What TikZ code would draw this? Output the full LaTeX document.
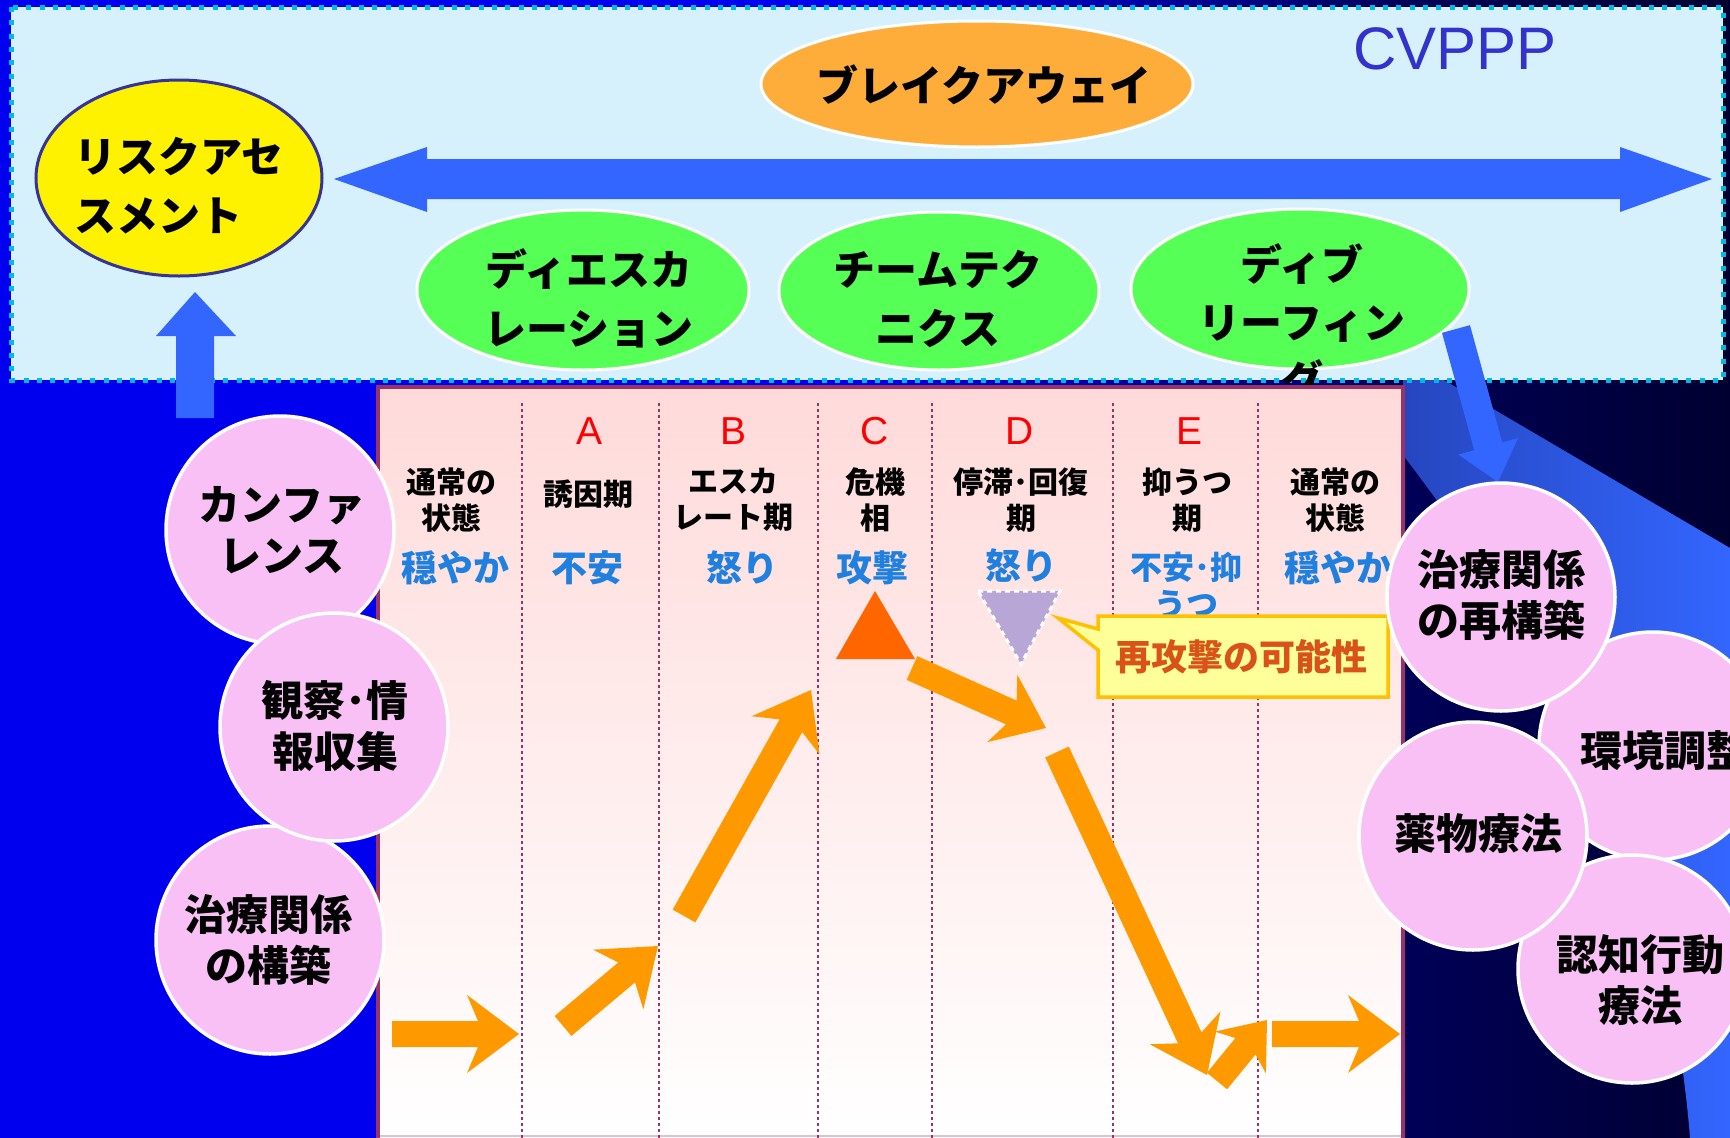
\documentclass[tikz,border=0pt]{standalone}
\usepackage{fontspec}
\setmainfont{Noto Sans CJK JP}
\newfontfamily\arialf{Liberation Sans}
\usetikzlibrary{calc,shapes.geometric}
\definecolor{bgblue}{HTML}{0000EE}
\definecolor{navyA}{HTML}{000058}
\definecolor{navyB}{HTML}{000030}
\definecolor{bandA}{HTML}{2646BF}
\definecolor{bandB}{HTML}{3366FF}
\definecolor{boxfill}{HTML}{D7F1FC}
\definecolor{cyanbrd}{HTML}{00B9E8}
\definecolor{arrblue}{HTML}{3366FF}
\definecolor{riskbrd}{HTML}{333399}
\definecolor{breakfill}{HTML}{FFAD3A}
\definecolor{greenfill}{HTML}{55FF55}
\definecolor{cvpppc}{HTML}{3333CC}
\definecolor{tablebrd}{HTML}{993366}
\definecolor{tabletop}{HTML}{FFDADA}
\definecolor{emoc}{HTML}{1F80E0}
\definecolor{otri}{HTML}{FF6600}
\definecolor{ptri}{HTML}{B8A6D6}
\definecolor{orangeA}{HTML}{FF9900}
\definecolor{callfill}{HTML}{FFFF99}
\definecolor{callbrd}{HTML}{FFC000}
\definecolor{calltext}{HTML}{D95319}
\definecolor{pinkc}{HTML}{F9C0F6}
\definecolor{tablebot}{HTML}{D8C4D0}
\newcommand\blockarr[7]{%
  \coordinate (ba-m) at ($(#2)!#6!(#1)$);
  \coordinate (ba-h) at ($(#2)!#5!(#1)$);
  \fill[#7] ($(#1)!#3!90:(#2)$) -- ($(ba-m)!#3!90:(#2)$) -- ($(ba-h)!#4!90:(#2)$) -- (#2)
    -- ($(ba-h)!#4!-90:(#2)$) -- ($(ba-m)!#3!-90:(#2)$) -- ($(#1)!#3!-90:(#2)$) -- cycle;}
\tikzset{
  bigtxt/.style={font=\bfseries\fontsize{42}{59}\selectfont, align=center, inner sep=0pt},
  lbl/.style={font=\bfseries\fontsize{30}{36}\selectfont, align=center, inner sep=0pt},
  emo/.style={font=\bfseries\fontsize{36}{40}\selectfont, text=emoc, align=center, inner sep=0pt},
  letter/.style={font=\arialf\fontsize{39}{44}\selectfont, text=red, inner sep=0pt},
  circ/.style={circle, minimum size=228pt, fill=pinkc, draw=white, line width=3.5pt, inner sep=0pt},
  ctxt/.style={font=\bfseries\fontsize{42}{51}\selectfont, align=center, inner sep=0pt},
  topell/.style={ellipse, draw=white, line width=3pt, inner sep=0pt},
  dotln/.style={tablebrd, line width=2.5pt, dash pattern=on 2.5pt off 3.5pt},
}
\begin{document}
\begin{tikzpicture}[x=1pt,y=-1pt]
\useasboundingbox (0,0) rectangle (1730,1138);
\clip (0,0) rectangle (1730,1138);
% background
\fill[bgblue] (0,0) rectangle (871,1138);
\shade[left color=bgblue, right color=navyA] (870,0) rectangle (1401,1138);
\shade[left color=navyA, right color=navyB] (1400,0) rectangle (1730,1138);
% right blue band
\shade[left color=bandA, right color=bandB] (1403,356) -- (1730,548) -- (1730,1138) -- (1690,1138)
  .. controls (1670,880) and (1560,660) .. (1403,455) -- cycle;
% top box
\fill[boxfill] (11,7) rectangle (1723,380);
\draw[cyanbrd, line width=5pt, dash pattern=on 5pt off 8.3pt] (11,7) rectangle (1723,380);
% double arrow
\fill[arrblue] (334,179) -- (427,147) -- (427,159) -- (1620,159) -- (1620,147) -- (1712,179)
  -- (1620,212) -- (1620,199) -- (427,199) -- (427,212) -- cycle;
% top ellipses
\node[ellipse, minimum width=286pt, minimum height=196pt, fill=yellow, draw=riskbrd, line width=3pt, inner sep=0pt] (risk) at (179,178) {};
\node[topell, minimum width=432pt, minimum height=126pt, fill=breakfill] (break) at (977,84) {};
\node[topell, minimum width=332pt, minimum height=160pt, fill=greenfill] (deesc) at (583,290) {};
\node[topell, minimum width=320pt, minimum height=158pt, fill=greenfill] (team) at (939,291) {};
\node[topell, minimum width=338pt, minimum height=160pt, fill=greenfill] (debrief) at (1300,289) {};
\node[bigtxt, align=left, anchor=west] (t-risk) at (74,186) {リスクアセ\\スメント};
\node[bigtxt] (t-break) at (984,85) {ブレイクアウェイ};
\node[bigtxt] (t-deesc) at (589,298) {ディエスカ\\レーション};
\node[bigtxt] (t-team) at (938,299) {チームテク\\ニクス};
\node[bigtxt, font=\bfseries\fontsize{42}{58}\selectfont] (t-debr) at (1302,322) {ディブ\\リーフィン\\グ};
\node[font=\arialf\fontsize{60}{66}\selectfont, text=cvpppc, inner sep=0pt] (t-cvppp) at (1455,49) {CVPPP};
% up arrow (left)
\fill[arrblue] (176,418) -- (176,336) -- (156,336) -- (195,292) -- (236,336) -- (214,336) -- (214,418) -- cycle;
% table
\shade[top color=tabletop, bottom color=white] (378,387) rectangle (1403,1138);
\draw[tablebot, line width=2pt] (378,1136) -- (1403,1136);
\draw[tablebrd, line width=4pt] (378,1140) -- (378,387) -- (1403,387) -- (1403,1140);
% down arrow (right)
\coordinate (dbS) at (1456,329);
\coordinate (dbE) at (1498,482);
\blockarr{dbS}{dbE}{14.5pt}{31pt}{37pt}{37pt}{arrblue}
% column separators
\foreach \x in {522,659,818,932,1113,1258} \draw[dotln] (\x,403) -- (\x,1138);
% letters
\node[letter] (lA) at (590,431) {A};
\node[letter] (lB) at (733,431) {B};
\node[letter] (lC) at (875,431) {C};
\node[letter] (lD) at (1020,431) {D};
\node[letter] (lE) at (1189,431) {E};
% phase labels
\node[lbl] (p0) at (451,500) {通常の\\状態};
\node[lbl] (p1) at (588,494) {誘因期};
\node[lbl] (p2) at (733,500) {エスカ\\レート期};
\node[lbl] (p3) at (875,500) {危機\\相};
\node[lbl] (p4) at (1021,500) {停滞･回復\\期};
\node[lbl] (p5) at (1187,500) {抑うつ\\期};
\node[lbl] (p6) at (1335,500) {通常の\\状態};
% emotions
\node[emo] (e0) at (455,568) {穏やか};
\node[emo] (e1) at (587,568) {不安};
\node[emo] (e2) at (742,568) {怒り};
\node[emo] (e3) at (872,568) {攻撃};
\node[emo] (e4) at (1021,566) {怒り};
\node[emo, font=\bfseries\fontsize{32}{37}\selectfont] (e5) at (1186,585) {不安･抑\\うつ};
\node[emo] (e6) at (1338,568) {穏やか};
% triangles
\fill[otri] (875,591) -- (915,659) -- (836,659) -- cycle;
\draw[fill=ptri, draw=white, line width=3pt, dash pattern=on 5pt off 4pt] (978,591) -- (1060,591) -- (1021,664) -- cycle;
% orange arrows
\coordinate (o1s) at (392,1034); \coordinate (o1e) at (519,1034);
\coordinate (o2s) at (563,1026); \coordinate (o2e) at (658,946);
\coordinate (o3s) at (684,916);  \coordinate (o3e) at (811,690);
\coordinate (o4s) at (912,668);  \coordinate (o4e) at (1046,728);
\coordinate (o5s) at (1057,752); \coordinate (o5e) at (1207,1075);
\coordinate (o6s) at (1217,1081); \coordinate (o6e) at (1267,1020);
\coordinate (o7s) at (1272,1034); \coordinate (o7e) at (1400,1034);
\blockarr{o1s}{o1e}{13pt}{39pt}{52pt}{41pt}{orangeA}
\blockarr{o2s}{o2e}{13pt}{39pt}{52pt}{41pt}{orangeA}
\blockarr{o3s}{o3e}{13pt}{39pt}{52pt}{41pt}{orangeA}
\blockarr{o4s}{o4e}{13pt}{37pt}{48pt}{38pt}{orangeA}
\blockarr{o5s}{o5e}{13pt}{39pt}{52pt}{41pt}{orangeA}
\blockarr{o6s}{o6e}{13pt}{33pt}{42pt}{34pt}{orangeA}
\blockarr{o7s}{o7e}{13pt}{39pt}{52pt}{41pt}{orangeA}
% callout
\fill[callfill, draw=callbrd, line width=3.5pt, line join=miter] (1098,616) -- (1388,616) -- (1388,697) -- (1098,697)
  -- (1098,650) -- (1058,618) -- (1098,629) -- cycle;
\node[font=\bfseries\fontsize{36}{40}\selectfont, text=calltext, inner sep=0pt] (t-call) at (1241,657) {再攻撃の可能性};
% left circles
\node[circ] (c-conf) at (280,530) {};
\node[circ] (c-rel) at (270,940) {};
\node[circ] (c-obs) at (334,727) {};
\node[ctxt] (t-conf) at (282,530) {カンファ\\レンス};
\node[ctxt] (t-obs) at (335,726) {観察･情\\報収集};
\node[ctxt] (t-rel) at (268,940) {治療関係\\の構築};
% right circles
\node[circ] (c-env) at (1653,746) {};
\node[circ] (c-cbt) at (1632,969) {};
\node[circ] (c-drug) at (1473,836) {};
\node[circ] (c-rebuild) at (1501,597) {};
\node[ctxt] (t-env) at (1664,751) {環境調整};
\node[ctxt] (t-cbt) at (1640,980) {認知行動\\療法};
\node[ctxt] (t-drug) at (1478,834) {薬物療法};
\node[ctxt] (t-rebuild) at (1501,595) {治療関係\\の再構築};
\end{tikzpicture}
\end{document}
